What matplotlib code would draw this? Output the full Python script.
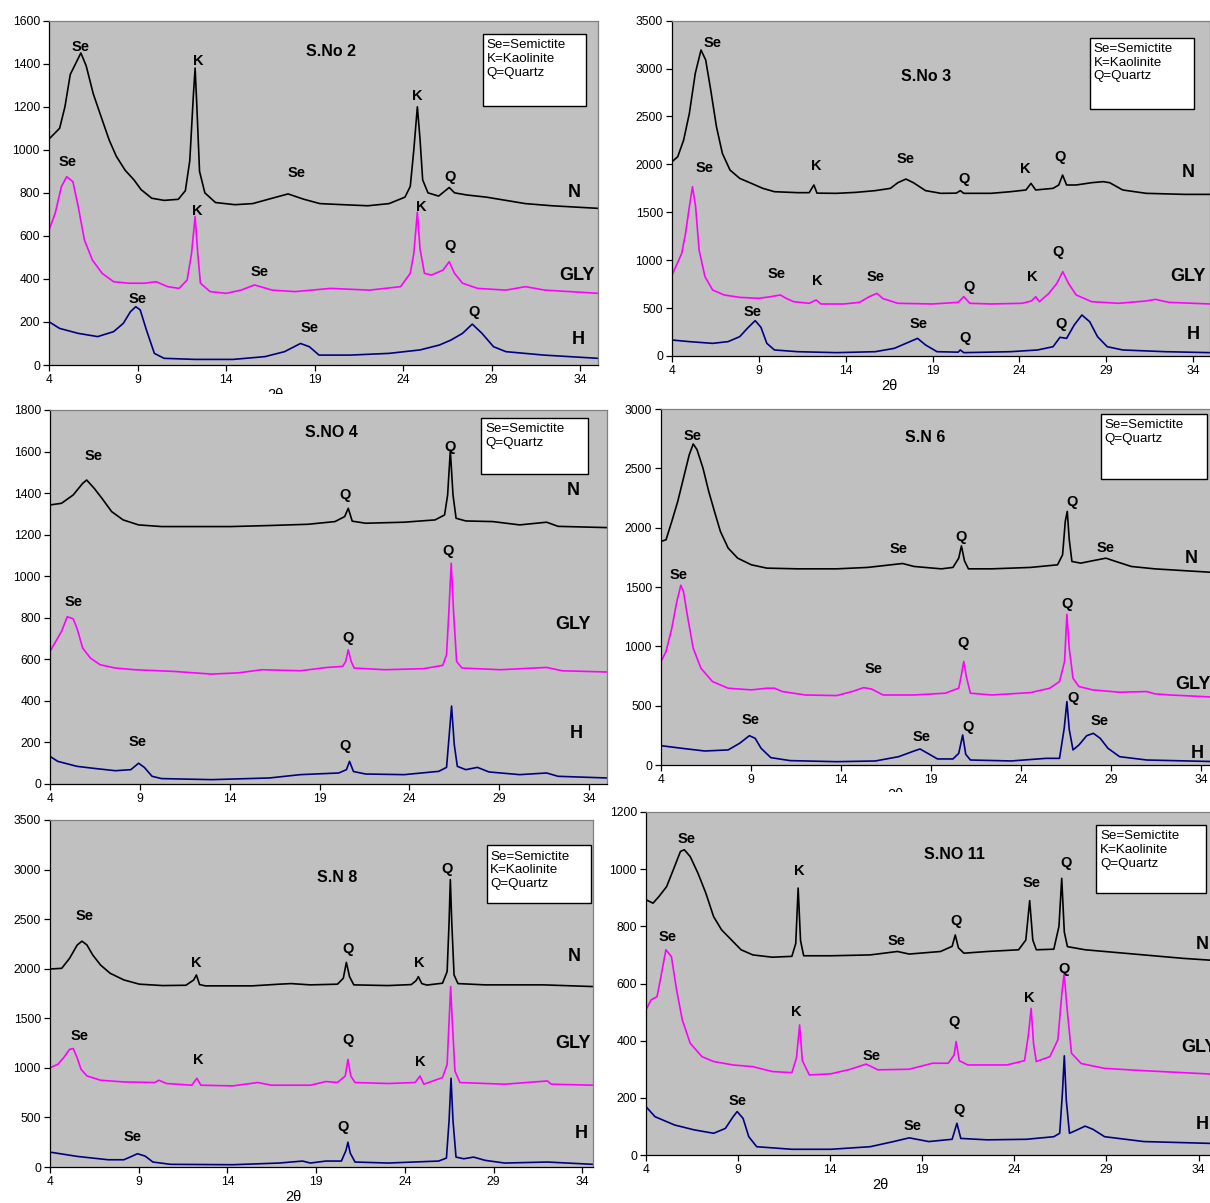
import matplotlib
matplotlib.use('Agg')
import matplotlib.pyplot as plt
from matplotlib.patches import Rectangle
from matplotlib.transforms import Bbox

plt.rcParams['font.family'] = ['Liberation Sans', 'DejaVu Sans']

# ------------------------------------------------------------
# data (2theta, counts)
# ------------------------------------------------------------
# S.No 2
S2_N_X = [4.0, 4.6, 4.9, 5.2, 5.5, 5.8, 6.1, 6.5, 7.0, 7.4, 7.8, 8.3, 8.8, 9.2, 9.8, 10.5, 11.3, 11.7, 11.95, 12.15,
          12.25, 12.35, 12.5, 12.8, 13.4, 14.5, 15.5, 16.6, 17.5, 18.4, 19.3, 20.6, 22.0, 23.2, 24.1, 24.4, 24.6, 24.8,
          24.95, 25.1, 25.4, 26.0, 26.6, 26.9, 27.6, 28.7, 29.8, 30.9, 32.4, 35.0]
S2_N_Y = [1050, 1100, 1200, 1350, 1400, 1450, 1390, 1260, 1140, 1045, 970, 905, 860, 815, 775, 765, 770, 810, 950, 1250,
          1380, 1200, 900, 800, 755, 745, 750, 775, 795, 770, 750, 745, 740, 750, 780, 830, 1000, 1200,
          1050, 860, 800, 785, 825, 800, 790, 780, 765, 750, 740, 728]
S2_GLY_X = [4.0, 4.35, 4.7, 5.0, 5.35, 5.65, 6.0, 6.45, 7.0, 7.65, 8.5, 9.4, 10.05, 10.7, 11.35, 11.8, 12.05, 12.25,
            12.4, 12.55, 13.1, 14.0, 14.85, 15.6, 16.6, 17.9, 19.9, 22.1, 23.85, 24.4, 24.6, 24.8, 24.95, 25.2, 25.6,
            26.25, 26.6, 26.9, 27.35, 28.2, 29.8, 30.9, 32.0, 35.0]
S2_GLY_Y = [627, 705, 829, 875, 852, 736, 581, 488, 426, 387, 380, 380, 387, 364, 356, 395, 519, 690,
            519, 380, 341, 333, 348, 372, 348, 341, 356, 348, 364, 426, 519, 710, 540, 426, 418,
            441, 480, 426, 380, 356, 348, 364, 348, 333]
S2_H_X = [4.0, 4.6, 5.65, 6.75, 7.65, 8.2, 8.6, 8.9, 9.15, 9.5, 9.95, 10.5, 12.25, 14.4, 16.2, 17.3, 18.2, 18.7, 19.25,
          21.0, 23.2, 24.95, 26.05, 26.7, 27.35, 27.9, 28.45, 29.1, 29.8, 31.95, 35.0]
S2_H_Y = [201, 170, 147, 132, 155, 194, 248, 271, 256, 163, 54, 31, 26, 26, 39, 62, 100, 85, 46,
          46, 54, 70, 93, 116, 147, 190, 147, 85, 62, 46, 31]

# S.No 3
S3_N_X = [4.0, 4.33, 4.67, 5.0, 5.34, 5.67, 5.94, 6.23, 6.56, 6.9, 7.34, 7.9, 8.57, 9.23, 9.9, 11.24, 11.9, 12.17,
          12.35, 13.47, 14.58, 15.7, 16.58, 17.0, 17.47, 17.9, 18.6, 19.48, 20.37, 20.6, 20.8, 22.37, 23.49, 24.38,
          24.67, 24.94, 25.94, 26.27, 26.49, 26.72, 27.27, 28.16, 28.83, 29.2, 29.95, 31.3, 33.5, 35.0]
S3_N_Y = [2028, 2080, 2254, 2533, 2950, 3194, 3090, 2776, 2393, 2115, 1941, 1854, 1802, 1750, 1715, 1705, 1705, 1785,
          1700, 1698, 1708, 1726, 1750, 1809, 1847, 1809, 1726, 1698, 1700, 1726, 1698, 1698, 1715, 1733,
          1802, 1733, 1750, 1785, 1889, 1785, 1785, 1809, 1820, 1809, 1733, 1698, 1687, 1687]
S3_GLY_X = [4.0, 4.22, 4.56, 4.78, 5.0, 5.18, 5.36, 5.56, 5.9, 6.34, 7.0, 7.9, 9.0, 9.68, 10.24, 10.57, 11.0, 11.9,
            12.3, 12.57, 13.9, 14.8, 15.36, 15.8, 16.14, 17.0, 19.0, 20.48, 20.8, 21.15, 22.37, 24.16, 24.7, 24.94,
            25.16, 25.7, 26.16, 26.5, 26.83, 27.27, 28.16, 29.72, 31.28, 31.84, 32.6, 35.0]
S3_GLY_Y = [845, 932, 1071, 1280, 1558, 1767, 1558, 1106, 828, 689, 637, 612, 602, 619, 637, 602, 567, 550,
            585, 543, 543, 560, 619, 654, 600, 550, 543, 560, 620, 550, 543, 550, 575, 619,
            567, 654, 758, 880, 758, 637, 567, 550, 574, 591, 560, 543]
S3_H_X = [4.0, 5.0, 6.34, 7.23, 7.9, 8.34, 8.79, 9.12, 9.46, 9.9, 11.24, 13.47, 15.7, 16.8, 17.7, 18.14, 18.6, 19.26,
          20.48, 20.6, 20.8, 23.49, 25.05, 25.94, 26.34, 26.72, 27.16, 27.6, 28.05, 28.5, 29.06, 29.95, 32.4, 35.0]
S3_H_Y = [167, 150, 132, 150, 202, 289, 369, 300, 132, 63, 45, 35, 45, 80, 150, 184, 115, 45,
          40, 63, 35, 45, 63, 97, 195, 184, 324, 428, 358, 202, 97, 63, 45, 35]

# S.NO 4
S4_N_X = [4.0, 4.64, 5.29, 5.82, 6.04, 6.46, 6.89, 7.43, 8.07, 8.93, 10.21, 14.07, 16.21, 18.36, 19.86, 20.4, 20.6,
          20.82, 21.57, 23.71, 25.43, 25.96, 26.13, 26.28, 26.43, 26.6, 27.14, 28.64, 30.14, 31.64, 32.28, 35.0]
S4_N_Y = [1343, 1351, 1391, 1447, 1463, 1423, 1375, 1311, 1271, 1247, 1239, 1239, 1244, 1250, 1263, 1287, 1327,
          1265, 1255, 1260, 1271, 1295, 1391, 1605, 1391, 1279, 1266, 1263, 1247, 1260, 1240, 1234]
S4_GLY_X = [4.0, 4.32, 4.64, 4.96, 5.29, 5.5, 5.82, 6.25, 6.79, 7.64, 8.71, 10.86, 13.0, 14.5, 15.8, 17.93, 19.43,
            20.29, 20.46, 20.6, 20.76, 20.93, 22.64, 24.79, 25.86, 26.07, 26.2, 26.33, 26.46, 26.63, 26.93, 29.07,
            31.64, 32.5, 35.0]
S4_GLY_Y = [638, 686, 734, 805, 795, 750, 654, 606, 574, 558, 550, 542, 529, 535, 550, 545, 561,
            566, 590, 646, 590, 558, 550, 555, 571, 622, 830, 1063, 830, 590, 558, 550,
            561, 545, 539]
S4_H_X = [4.0, 4.43, 5.5, 6.57, 7.64, 8.5, 8.93, 9.25, 9.68, 10.21, 13.0, 16.21, 17.93, 20.07, 20.5, 20.67, 20.89,
          21.57, 23.71, 25.64, 26.07, 26.22, 26.35, 26.5, 26.67, 27.14, 27.79, 28.43, 30.14, 31.64, 32.28, 35.0]
S4_H_Y = [133, 109, 85, 74, 64, 69, 100, 80, 37, 26, 21, 29, 45, 53, 69, 109, 60,
          48, 45, 61, 80, 237, 375, 189, 85, 69, 80, 58, 45, 53, 37, 29]

# S.N 6
S6_N_X = [4.0, 4.28, 4.6, 4.93, 5.25, 5.57, 5.79, 6.0, 6.33, 6.65, 6.97, 7.3, 7.73, 8.26, 9.02, 9.88, 11.6, 13.76,
          15.48, 16.77, 17.42, 18.06, 19.57, 20.22, 20.54, 20.69, 20.86, 21.08, 22.37, 24.53, 26.03, 26.31, 26.46,
          26.57, 26.68, 26.83, 27.32, 27.97, 28.72, 29.27, 30.13, 31.42, 33.14, 35.0]
S6_N_Y = [1884, 1898, 2053, 2221, 2418, 2615, 2705, 2658, 2503, 2306, 2137, 1968, 1828, 1743, 1687, 1659, 1653, 1653,
          1665, 1687, 1698, 1673, 1653, 1665, 1743, 1847, 1720, 1653, 1653, 1665, 1687, 1771, 2053,
          2137, 1900, 1715, 1701, 1721, 1743, 1715, 1673, 1653, 1637, 1620]
S6_GLY_X = [4.0, 4.28, 4.6, 4.88, 5.1, 5.25, 5.46, 5.79, 6.22, 6.86, 7.73, 9.02, 9.88, 10.31, 10.74, 12.03, 13.76,
            14.62, 15.26, 15.7, 16.34, 18.06, 19.79, 20.54, 20.69, 20.82, 20.97, 21.19, 22.37, 24.53, 25.6, 26.14,
            26.42, 26.55, 26.68, 26.89, 27.22, 27.97, 29.48, 30.99, 31.42, 32.28, 35.0]
S6_GLY_Y = [872, 956, 1153, 1378, 1515, 1462, 1265, 984, 815, 703, 647, 633, 647, 647, 619, 590, 585,
            619, 652, 640, 590, 590, 605, 647, 759, 872, 740, 605, 590, 610, 647, 703,
            872, 1270, 984, 731, 661, 633, 613, 619, 600, 590, 570]
S6_H_X = [4.0, 5.14, 6.43, 7.73, 8.37, 8.91, 9.23, 9.56, 10.1, 11.17, 13.76, 15.91, 17.2, 18.06, 18.39, 18.82, 19.36,
          20.22, 20.54, 20.76, 20.93, 21.19, 23.45, 25.39, 26.14, 26.4, 26.55, 26.68, 26.89, 27.22, 27.65, 28.02,
          28.4, 28.83, 29.48, 30.99, 35.0]
S6_H_Y = [163, 141, 118, 127, 183, 247, 225, 141, 62, 37, 28, 34, 70, 118, 135, 98, 51,
          51, 98, 253, 90, 42, 34, 56, 56, 309, 534, 300, 127, 169, 247, 267,
          225, 141, 70, 42, 28]

# S.N 8
S8_N_X = [4.0, 4.66, 5.1, 5.53, 5.8, 6.08, 6.41, 6.85, 7.39, 8.16, 9.04, 10.35, 11.66, 12.1, 12.25, 12.43, 12.76,
          15.39, 16.92, 17.58, 18.67, 20.2, 20.53, 20.7, 20.88, 21.12, 23.05, 24.36, 24.63, 24.76, 24.95, 25.24,
          26.12, 26.38, 26.49, 26.56, 26.64, 26.77, 26.99, 28.52, 31.81, 34.6]
S8_N_Y = [1997, 2004, 2104, 2238, 2278, 2240, 2138, 2037, 1954, 1887, 1844, 1830, 1833, 1887, 1937, 1840, 1827,
          1827, 1844, 1850, 1837, 1844, 1904, 2064, 1920, 1837, 1830, 1840, 1880, 1920, 1850, 1835,
          1854, 1971, 2472, 2899, 2472, 1937, 1850, 1837, 1837, 1820]
S8_GLY_X = [4.0, 4.44, 4.77, 5.1, 5.31, 5.53, 5.75, 6.08, 6.85, 8.16, 9.91, 10.13, 10.57, 11.99, 12.28, 12.5, 14.29,
            15.71, 16.48, 18.67, 19.55, 20.2, 20.64, 20.79, 20.95, 21.19, 23.05, 24.58, 24.85, 25.07, 26.12, 26.38,
            26.49, 26.58, 26.67, 26.82, 27.1, 29.62, 32.03, 32.25, 34.6]
S8_GLY_Y = [1002, 1035, 1102, 1186, 1195, 1102, 985, 919, 875, 858, 852, 875, 842, 825, 895, 825, 818,
            852, 825, 825, 862, 852, 918, 1085, 918, 852, 842, 852, 918, 835, 902, 1035,
            1470, 1820, 1470, 969, 852, 835, 868, 835, 825]
S8_H_X = [4.0, 5.53, 7.28, 8.16, 8.6, 8.93, 9.36, 9.8, 10.79, 14.29, 16.92, 18.23, 18.67, 19.55, 20.42, 20.68, 20.79,
          20.92, 21.19, 23.05, 25.9, 26.34, 26.49, 26.6, 26.71, 26.88, 27.32, 27.87, 28.52, 29.62, 32.03, 34.6]
S8_H_Y = [150, 107, 73, 73, 107, 134, 110, 50, 27, 23, 40, 60, 40, 60, 60, 167, 250,
          140, 50, 40, 60, 90, 468, 895, 468, 100, 83, 100, 67, 40, 50, 27]

# S.NO 11
S11_N_X = [4.0, 4.38, 4.7, 5.12, 5.55, 5.87, 6.08, 6.4, 6.82, 7.25, 7.67, 8.1, 8.63, 9.16, 9.8, 10.86, 11.92, 12.13,
           12.26, 12.39, 12.56, 14.04, 16.17, 17.65, 18.29, 19.99, 20.62, 20.79, 20.96, 21.26, 22.53, 24.23, 24.62,
           24.83, 25.0, 25.19, 26.14, 26.42, 26.57, 26.71, 26.88, 27.84, 28.9, 31.03, 33.15, 35.0]
S11_N_Y = [893, 881, 904, 939, 1009, 1062, 1068, 1044, 986, 916, 834, 788, 753, 718, 700, 692, 695, 740,
           934, 750, 697, 697, 700, 712, 703, 712, 730, 770, 725, 706, 712, 718, 752,
           890, 752, 718, 720, 800, 968, 780, 729, 718, 712, 700, 688, 680]
S11_GLY_X = [4.0, 4.28, 4.6, 4.81, 5.08, 5.38, 5.66, 5.97, 6.4, 7.04, 7.67, 8.73, 9.8, 10.86, 11.92, 12.17, 12.34,
             12.49, 12.87, 14.04, 15.1, 15.95, 16.59, 18.29, 19.56, 20.41, 20.73, 20.84, 21.01, 21.47, 23.59, 24.55,
             24.76, 24.91, 25.04, 25.19, 25.93, 26.36, 26.57, 26.7, 26.85, 27.1, 27.63, 28.9, 31.03, 35.0]
S11_GLY_Y = [508, 543, 554, 624, 718, 694, 578, 473, 391, 344, 327, 315, 309, 292, 288, 340, 455,
             330, 280, 284, 300, 318, 298, 300, 321, 321, 350, 397, 330, 315, 315, 330,
             420, 513, 390, 327, 344, 403, 560, 636, 520, 356, 320, 303, 295, 282]
S11_H_X = [4.0, 4.49, 5.55, 6.61, 7.67, 8.31, 8.73, 8.95, 9.27, 9.58, 10.01, 11.92, 14.04, 16.17, 17.44, 18.29, 19.35,
           20.62, 20.88, 21.09, 22.53, 24.66, 26.14, 26.46, 26.61, 26.71, 26.82, 26.99, 27.31, 27.84, 28.26, 28.9,
           31.03, 35.0]
S11_H_Y = [169, 134, 105, 88, 76, 93, 134, 152, 128, 64, 29, 20, 20, 29, 47, 60, 47,
           55, 111, 58, 53, 55, 64, 76, 220, 347, 190, 76, 85, 101, 90, 64,
           47, 40]

# peak labels (text, 2theta, counts) and the N / GLY / H row names
S2_LABELS = [("Se", 5.8, 1480), ("K", 12.45, 1413), ("K", 24.8, 1250), ("Se", 18.0, 894), ("Q", 26.65, 875),
             ("Se", 5.05, 945), ("K", 12.4, 717), ("K", 25.0, 736), ("Se", 15.9, 430), ("Q", 26.65, 555),
             ("Se", 9.0, 305), ("Se", 18.7, 170), ("Q", 28.0, 245)]
S2_ROWS = [("N", 33.65, 801), ("GLY", 33.8, 415), ("H", 33.9, 119)]
S3_LABELS = [("Se", 6.34, 3263), ("Se", 5.9, 1966), ("K", 12.3, 1983), ("Se", 17.47, 2056), ("Q", 20.8, 1844),
             ("K", 24.33, 1948), ("Q", 26.34, 2080), ("Se", 10.0, 852), ("K", 12.35, 783), ("Se", 15.7, 828),
             ("Q", 21.1, 717), ("K", 24.75, 828), ("Q", 26.2, 1082), ("Se", 8.63, 463), ("Se", 18.2, 330),
             ("Q", 20.86, 191), ("Q", 26.38, 330)]
S3_ROWS = [("N", 33.7, 1913), ("GLY", 33.7, 828), ("H", 34.0, 226)]
S4_LABELS = [("Se", 6.42, 1579), ("Q", 20.43, 1391), ("Q", 26.28, 1624), ("Se", 5.33, 874), ("Q", 20.6, 702),
             ("Q", 26.13, 1119), ("Se", 8.86, 200), ("Q", 20.43, 184)]
S4_ROWS = [("N", 33.1, 1411), ("GLY", 33.1, 766), ("H", 33.3, 245)]
S6_LABELS = [("Se", 5.74, 2770), ("Se", 17.2, 1822), ("Q", 20.65, 1918), ("Q", 26.83, 2216), ("Se", 28.68, 1828),
             ("Se", 4.99, 1603), ("Se", 15.8, 810), ("Q", 20.76, 1026), ("Q", 26.57, 1358), ("Se", 8.97, 380),
             ("Se", 18.45, 239), ("Q", 21.04, 323), ("Q", 26.89, 562), ("Se", 28.36, 374)]
S6_ROWS = [("N", 33.46, 1743), ("GLY", 33.57, 675), ("H", 33.79, 98)]
S8_LABELS = [("Se", 5.93, 2528), ("K", 12.25, 2061), ("Q", 20.79, 2194), ("K", 24.8, 2054), ("Q", 26.4, 3006),
             ("Se", 5.69, 1326), ("K", 12.36, 1075), ("Q", 20.79, 1286), ("K", 24.85, 1059), ("Se", 8.64, 307),
             ("Q", 20.49, 401)]
S8_ROWS = [("N", 33.56, 2128), ("GLY", 33.45, 1242), ("H", 33.96, 334)]
S11_LABELS = [("Se", 6.19, 1105), ("K", 12.34, 994), ("Se", 17.59, 750), ("Q", 20.84, 817), ("Se", 24.91, 953),
              ("Q", 26.78, 1021), ("Se", 5.19, 762), ("K", 12.17, 502), ("Se", 16.23, 347), ("Q", 20.73, 467),
              ("K", 24.81, 548), ("Q", 26.72, 650), ("Se", 8.95, 190), ("Se", 18.46, 101), ("Q", 21.0, 158)]
S11_ROWS = [("N", 34.2, 735), ("GLY", 34.0, 377), ("H", 34.2, 105)]

TITLES = ["S.No 2", "S.No 3", "S.NO 4", "S.N 6", "S.N 8", "S.NO 11"]
TITLE_POS = [(19.95, 1456), (18.6, 2922), (19.64, 1691), (18.67, 2759), (20.2, 2916), (20.77, 1052)]
LEGEND_3 = "Se=Semictite\nK=Kaolinite\nQ=Quartz"
LEGEND_2 = "Se=Semictite\nQ=Quartz"
X_TICKS = [4, 9, 14, 19, 24, 29, 34]

# ------------------------------------------------------------
# layout (figure pixels: left, top, right, bottom)
# ------------------------------------------------------------
FIG_W, FIG_H = 1210, 1203
BG = '#C0C0C0'
COLORS = ['black', '#FF00FF', '#000080']

fig = plt.figure(figsize=(FIG_W / 100, FIG_H / 100), dpi=100)


def panel(box, xmax, ymax, ystep, curves, labels, rows, idx, legend, lbox, xlab=None, clip_y=None):
    l, t, r, b = box
    ax = fig.add_axes([l / FIG_W, 1 - b / FIG_H, (r - l) / FIG_W, (b - t) / FIG_H])
    ax.set_facecolor(BG)
    for (xs, ys), c in zip(curves, COLORS):
        ax.plot(xs, ys, color=c, lw=1.2)
    ax.set_xlim(4, xmax)
    ax.set_ylim(0, ymax)
    ax.set_xticks(X_TICKS)
    ax.set_yticks(range(0, ymax + 1, ystep))
    ax.tick_params(direction='out', length=4, width=0.9, labelsize=8.7, pad=2.5, colors='black')
    for s in ['left', 'bottom']:
        ax.spines[s].set_color('black')
        ax.spines[s].set_linewidth(0.9)
    for s in ['top', 'right']:
        ax.spines[s].set_color('#808080')
        ax.spines[s].set_linewidth(0.9)

    for txt, x, y in labels:
        ax.text(x, y, txt, ha='center', va='center', fontsize=10.5, fontweight='bold')
    for txt, x, y in rows:
        ax.text(x, y, txt, ha='center', va='center', fontsize=13, fontweight='bold')
    tx, ty = TITLE_POS[idx]
    ax.text(tx, ty, TITLES[idx], ha='center', va='center', fontsize=11.5, fontweight='bold')

    x0, x1, y0, y1 = lbox
    ax.add_patch(Rectangle((x0, y0), x1 - x0, y1 - y0, transform=ax.transAxes,
                           facecolor='white', edgecolor='black', lw=1.0, zorder=3))
    ax.text(x0 + 0.007, y1 - 0.015, legend, transform=ax.transAxes, ha='left', va='top',
            fontsize=9.6, linespacing=1.2, zorder=4)

    if xlab is not None:
        lt = fig.text(xlab, -30 / (b - t), '2θ', transform=ax.get_xaxis_transform(),
                      ha='center', va='center', fontsize=10.5)
        if clip_y is not None:
            lt.set_clip_on(True)
            lt.set_clip_box(Bbox([[0, FIG_H - clip_y], [FIG_W, FIG_H]]))
    return ax


panel((49, 20.7, 598, 365), 35, 1600, 200,
      [(S2_N_X, S2_N_Y), (S2_GLY_X, S2_GLY_Y), (S2_H_X, S2_H_Y)],
      S2_LABELS, S2_ROWS, 0, LEGEND_3, (0.790, 0.979, 0.753, 0.961), xlab=16.8, clip_y=394)
panel((672, 20.7, 1210.4, 356), 35, 3500, 500,
      [(S3_N_X, S3_N_Y), (S3_GLY_X, S3_GLY_Y), (S3_H_X, S3_H_Y)],
      S3_LABELS, S3_ROWS, 1, LEGEND_3, (0.776, 0.970, 0.737, 0.949), xlab=16.5)
panel((50, 410, 607, 784), 35, 1800, 200,
      [(S4_N_X, S4_N_Y), (S4_GLY_X, S4_GLY_Y), (S4_H_X, S4_H_Y)],
      S4_LABELS, S4_ROWS, 2, LEGEND_2, (0.774, 0.965, 0.828, 0.979))
panel((661, 409, 1219, 765), 35, 3000, 500,
      [(S6_N_X, S6_N_Y), (S6_GLY_X, S6_GLY_Y), (S6_H_X, S6_H_Y)],
      S6_LABELS, S6_ROWS, 3, LEGEND_2, (0.788, 0.978, 0.803, 0.986), xlab=17.0, clip_y=792)
panel((50, 820, 593, 1167), 34.6, 3500, 500,
      [(S8_N_X, S8_N_Y), (S8_GLY_X, S8_GLY_Y), (S8_H_X, S8_H_Y)],
      S8_LABELS, S8_ROWS, 4, LEGEND_3, (0.804, 0.996, 0.761, 0.927), xlab=17.7)
panel((646, 812, 1217, 1155), 35, 1200, 200,
      [(S11_N_X, S11_N_Y), (S11_GLY_X, S11_GLY_Y), (S11_H_X, S11_H_Y)],
      S11_LABELS, S11_ROWS, 5, LEGEND_3, (0.788, 0.980, 0.765, 0.9625), xlab=16.75)

plt.savefig('out.png', dpi=100)
plt.close()
